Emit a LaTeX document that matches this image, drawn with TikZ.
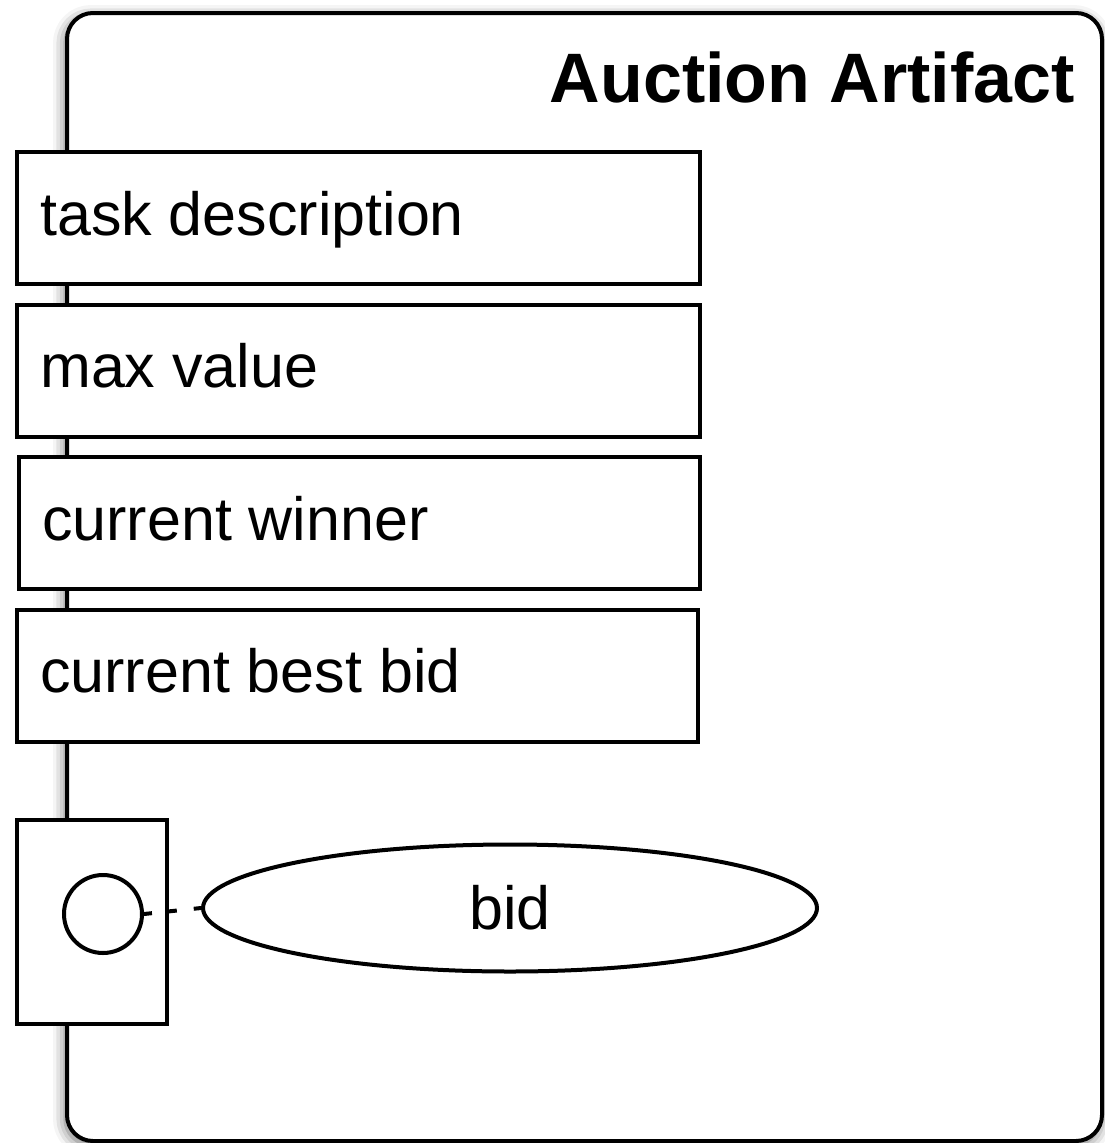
\documentclass[tikz,border=0pt]{standalone}
\usepackage{fontspec}
\setmainfont{Liberation Sans}
\usetikzlibrary{shapes.geometric,shadows.blur}
\tikzset{
  lw/.style={line width=4pt},
  frame/.style={lw, draw=black, fill=white, rounded corners=26pt, rectangle, inner sep=0pt,
    blur shadow={shadow xshift=-2pt, shadow yshift=-4pt, shadow blur radius=12pt, shadow opacity=60}},
  attr/.style={lw, draw=black, fill=white, rectangle, inner sep=0pt, anchor=north west},
  lbl/.style={font=\fontsize{61}{61}\selectfont, inner sep=0pt, anchor=base west},
}
\begin{document}
\begin{tikzpicture}[x=1pt,y=-1pt]
\useasboundingbox (0,0) rectangle (1105,1143);
\node[frame, minimum width=1035pt, minimum height=1128pt, anchor=north west] (frm) at (65,11) {};
\node[font=\fontsize{70}{70}\selectfont\bfseries, inner sep=0pt, anchor=base east] (ttl) at (1075,102) {Auction Artifact};

\node[attr, minimum width=683pt, minimum height=132pt] (b1) at (15,150) {};
\node[lbl] (t1) at (40,235) {task description};
\node[attr, minimum width=683pt, minimum height=132pt] (b2) at (15,303) {};
\node[lbl] (t2) at (40,387) {max value};
\node[attr, minimum width=681pt, minimum height=132pt] (b3) at (17,455) {};
\node[lbl] (t3) at (42,540) {current winner};
\node[attr, minimum width=681pt, minimum height=132pt] (b4) at (15,608) {};
\node[lbl] (t4) at (40,692) {current best bid};

\node[attr, minimum width=150pt, minimum height=204pt] (port) at (15,818) {};
\node[lw, draw=black, fill=white, circle, minimum size=78pt, inner sep=0pt] (op) at (103,914) {};
\node[lw, draw=black, fill=white, ellipse, minimum width=614pt, minimum height=127pt, inner sep=0pt,
  font=\fontsize{61}{61}\selectfont] (bid) at (510,908) {bid};
\draw[lw, dash pattern=on 8pt off 17pt] (op.east) -- (bid.west);
\end{tikzpicture}
\end{document}
